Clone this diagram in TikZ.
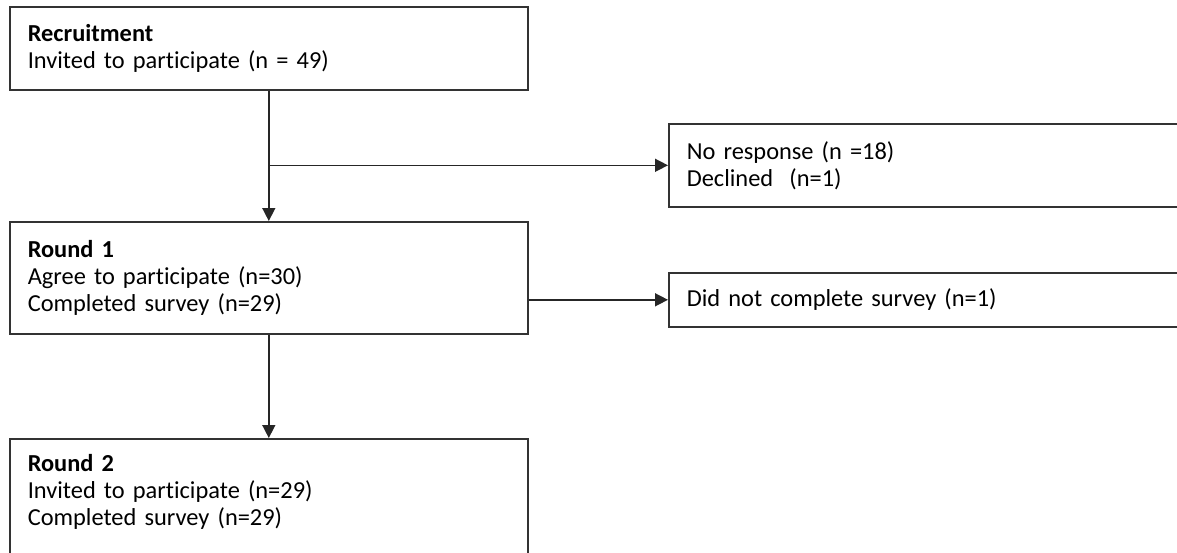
\documentclass[tikz,border=0pt]{standalone}
\usepackage{fontspec}
\setmainfont{Carlito}[Ligatures={NoCommon,NoContextual}]
\usetikzlibrary{arrows.meta,positioning}
\begin{document}
\begin{tikzpicture}
[x=0.5pt,y=-0.5pt,
 box/.style={draw=black!80,line width=0.8pt,anchor=north west,align=left,inner xsep=9pt,inner ysep=0pt,font=\fontsize{12.2}{13.5}\selectfont},
 link/.style={black!85,line width=0.75pt,-{Triangle[length=6.5pt,width=6.5pt]}}]
\useasboundingbox (0,0) rectangle (1177,552);

\node[box,text width=241pt,minimum height=41.5pt] (rec) at (9,6) {\textbf{Recruitment}\\Invited to participate (n = 49)};
\node[box,text width=243pt,minimum height=41.5pt] (noresp) at (668,123) {No response (n =18)\\Declined\ \ (n=1)};
\node[box,text width=241pt,minimum height=56pt] (r1) at (9,221) {\textbf{Round 1}\\Agree to participate (n=30)\\Completed survey (n=29)};
\node[box,text width=243pt,minimum height=27pt] (dnc) at (668,272) {Did not complete survey (n=1)};
\node[box,text width=241pt,minimum height=65pt] (r2) at (9,438) {\textbf{Round 2}\\Invited to participate (n=29)\\Completed survey (n=29)\\\mbox{}};

\draw[link] (rec.south) -- (r1.north);
\coordinate (split) at (rec.south |- noresp.west);
\draw[link] (split) -- (noresp.west);
\draw[link] (r1.east |- dnc.west) -- (dnc.west);
\draw[link] (r1.south) -- (r2.north);
\end{tikzpicture}
\end{document}
